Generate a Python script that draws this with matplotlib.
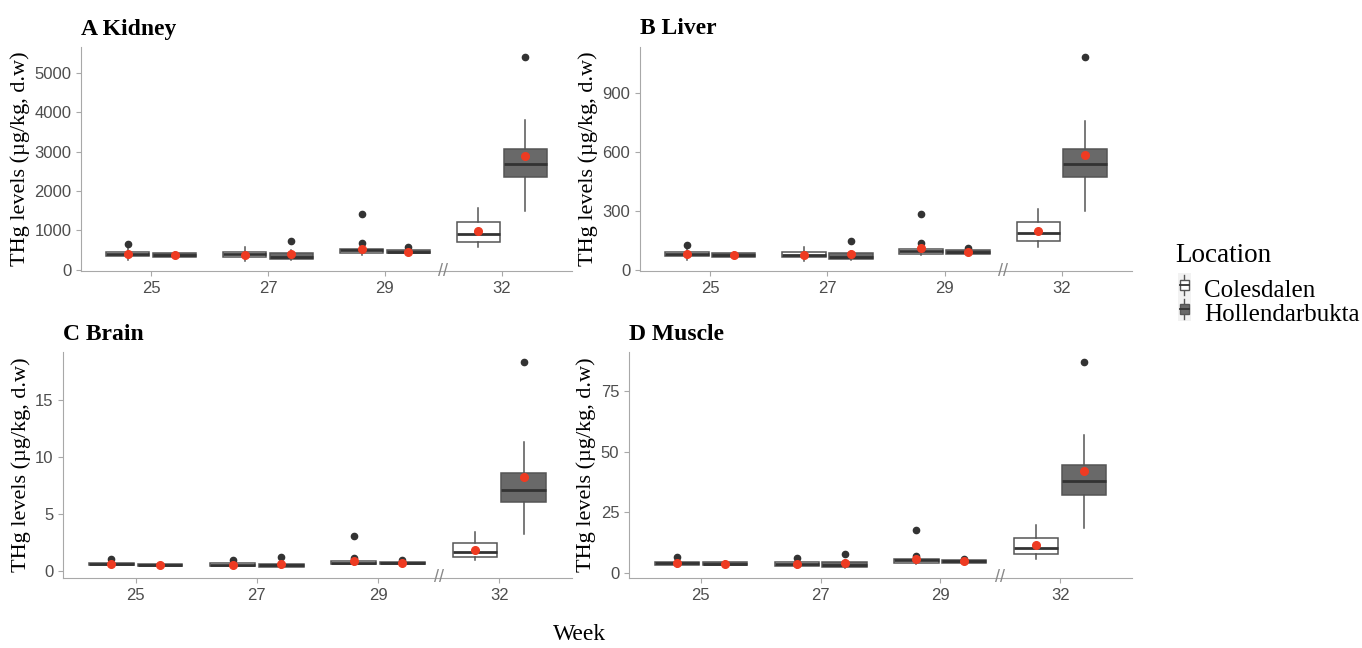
import matplotlib.pyplot as plt
from matplotlib.legend_handler import HandlerBase
from matplotlib.patches import Rectangle
from matplotlib.lines import Line2D
from matplotlib.transforms import blended_transform_factory

weeks = ["25", "27", "29", "32"]
locations = ["Colesdalen", "Hollendarbukta"]

# every list below: C25, H25, C27, H27, C29, H29, C32, H32
kidney_lo = [250, 300, 230, 250, 380, 400, 580, 1500]
kidney_q1 = [350, 330, 330, 270, 420, 420, 700, 2360]
kidney_med = [400, 390, 400, 330, 500, 460, 920, 2700]
kidney_q3 = [450, 430, 450, 430, 530, 500, 1220, 3080]
kidney_hi = [550, 450, 580, 500, 560, 530, 1560, 3800]
kidney_mean = [400, 380, 380, 410, 540, 460, 990, 2900]
kidney_out = [[650], [], [], [730], [1430, 690], [580], [], [5400]]

liver_lo = [50, 60, 45, 50, 75, 78, 115, 300]
liver_q1 = [68, 65, 62, 55, 80, 82, 145, 475]
liver_med = [80, 75, 75, 65, 97, 92, 185, 540]
liver_q3 = [90, 85, 90, 85, 105, 100, 245, 615]
liver_hi = [110, 88, 115, 95, 110, 105, 310, 760]
liver_mean = [80, 75, 77, 80, 108, 92, 195, 585]
liver_out = [[125], [], [], [145], [285, 135], [113], [], [1085]]

brain_lo = [0.35, 0.35, 0.3, 0.25, 0.45, 0.5, 0.9, 3.2]
brain_q1 = [0.45, 0.42, 0.4, 0.3, 0.55, 0.55, 1.15, 6.0]
brain_med = [0.55, 0.5, 0.5, 0.45, 0.7, 0.65, 1.65, 7.1]
brain_q3 = [0.65, 0.6, 0.65, 0.6, 0.8, 0.75, 2.45, 8.6]
brain_hi = [0.75, 0.65, 0.75, 0.7, 0.85, 0.8, 3.4, 11.3]
brain_mean = [0.55, 0.5, 0.5, 0.55, 0.85, 0.65, 1.85, 8.2]
brain_out = [[1.0], [], [0.9], [1.2], [3.0, 1.1], [0.9], [], [18.3]]

muscle_lo = [2.2, 2.5, 2.0, 2.0, 3.6, 3.6, 5.8, 18.5]
muscle_q1 = [3.0, 3.0, 2.8, 2.3, 4.0, 4.0, 7.5, 32]
muscle_med = [3.8, 3.6, 3.5, 3.0, 5.0, 4.6, 10.2, 38]
muscle_q3 = [4.5, 4.3, 4.5, 4.3, 5.5, 5.2, 14.5, 44.5]
muscle_hi = [5.0, 4.6, 5.0, 5.0, 5.8, 5.5, 19.5, 57]
muscle_mean = [3.8, 3.5, 3.6, 3.8, 5.5, 4.6, 11.2, 42]
muscle_out = [[6.5], [], [6.0], [7.8], [17.5, 7.0], [5.8], [], [87]]

kidney_ticks = [0, 1000, 2000, 3000, 4000, 5000]
liver_ticks = [0, 300, 600, 900]
brain_ticks = [0, 5, 10, 15]
muscle_ticks = [0, 25, 50, 75]

fills = ["white", "#696969"]
edge = "#555555"
mean_col = "#EE3B22"
axis_col = "#A8A8A8"
serif = ["Liberation Serif", "DejaVu Serif"]
sans = ["Liberation Sans", "DejaVu Sans"]

fig = plt.figure(figsize=(13.62, 6.48), dpi=100)
W, H = 1362, 648


def px_axes(left, top, right, bottom):
    return fig.add_axes([left / W, 1 - bottom / H, (right - left) / W, (bottom - top) / H])


def draw_panel(ax, title, lo, q1, med, q3, hi, mean, out, ticks):
    for j in range(2):
        idx = [k * 2 + j for k in range(4)]
        stats = [dict(whislo=lo[i], q1=q1[i], med=med[i], q3=q3[i], whishi=hi[i],
                      fliers=out[i], mean=mean[i]) for i in idx]
        pos = [k + 1 + (-0.2 if j == 0 else 0.2) for k in range(4)]
        ax.bxp(stats, positions=pos, widths=0.37, patch_artist=True, showmeans=True,
               showcaps=False,
               boxprops=dict(facecolor=fills[j], edgecolor=edge, linewidth=1.1),
               medianprops=dict(color="#333333", linewidth=2),
               whiskerprops=dict(color=edge, linewidth=1.1),
               flierprops=dict(marker="o", markerfacecolor="#333333", markeredgecolor="#333333",
                               markersize=4.5),
               meanprops=dict(marker="o", markerfacecolor=mean_col, markeredgecolor=mean_col,
                              markersize=5.5))
    vals = lo + hi + [v for o in out for v in o]
    vmin, vmax = min(vals), max(vals)
    pad = 0.05 * (vmax - vmin)
    ax.set_ylim(vmin - pad, vmax + pad)
    ax.set_xlim(0.4, 4.6)
    ax.set_xticks(range(1, 5))
    ax.set_xticklabels(weeks)
    ax.set_yticks(ticks)
    for s in ["top", "right"]:
        ax.spines[s].set_visible(False)
    for s in ["left", "bottom"]:
        ax.spines[s].set_color(axis_col)
    ax.tick_params(colors=axis_col, labelcolor="#4D4D4D", labelsize=12, length=3.5)
    for lab in ax.get_xticklabels() + ax.get_yticklabels():
        lab.set_family(sans)
    ax.set_ylabel("THg levels (µg/kg, d.w)", family=serif, fontsize=16, labelpad=3)
    ax.set_title(title, loc="left", family=serif, fontweight="bold", fontsize=17, pad=9)
    tr = blended_transform_factory(ax.transData, ax.transAxes)
    ax.text(3.5, 0, "//", transform=tr, ha="center", va="center", color="#888888",
            fontsize=13, family=sans)


axA = px_axes(81, 47, 572, 271)
axB = px_axes(640, 47, 1132, 271)
axC = px_axes(63, 352, 572, 578)
axD = px_axes(629, 352, 1132, 578)

draw_panel(axA, "A Kidney", kidney_lo, kidney_q1, kidney_med, kidney_q3, kidney_hi,
           kidney_mean, kidney_out, kidney_ticks)
draw_panel(axB, "B Liver", liver_lo, liver_q1, liver_med, liver_q3, liver_hi,
           liver_mean, liver_out, liver_ticks)
draw_panel(axC, "C Brain", brain_lo, brain_q1, brain_med, brain_q3, brain_hi,
           brain_mean, brain_out, brain_ticks)
draw_panel(axD, "D Muscle", muscle_lo, muscle_q1, muscle_med, muscle_q3, muscle_hi,
           muscle_mean, muscle_out, muscle_ticks)

fig.text(580 / W, 1 - 635 / H, "Week", ha="center", va="center", family=serif, fontsize=17)


class BoxKey(HandlerBase):
    def create_artists(self, legend, orig, xd, yd, width, height, fontsize, trans):
        cx = xd + width / 2
        bg = Rectangle((xd, yd - 1), width, height + 2, facecolor="#F2F2F2", edgecolor="none",
                       transform=trans)
        box = Rectangle((xd + width * 0.2, yd + height * 0.25), width * 0.6, height * 0.5,
                        facecolor=orig.get_facecolor(), edgecolor=edge, lw=1, transform=trans)
        wl = Line2D([cx, cx], [yd, yd + height], color=edge, lw=1, transform=trans)
        md = Line2D([xd + width * 0.2, xd + width * 0.8], [yd + height / 2] * 2,
                    color="#333333", lw=1.3, transform=trans)
        return [bg, wl, box, md]


fig.text(1175 / W, 1 - 255 / H, "Location", ha="left", va="center", family=serif, fontsize=19.5)
handles = [Rectangle((0, 0), 1, 1, facecolor=fills[j]) for j in range(2)]
leg = fig.legend(handles, locations, loc="center left",
                 bbox_to_anchor=(1170 / W, 1 - 302 / H), frameon=False,
                 handler_map={Rectangle: BoxKey()}, handlelength=0.55, handleheight=0.9,
                 handletextpad=0.5, labelspacing=0.0, borderpad=0.3, borderaxespad=0,
                 prop=dict(family=serif, size=18))

fig.savefig("out.png", dpi=100, facecolor="white")
